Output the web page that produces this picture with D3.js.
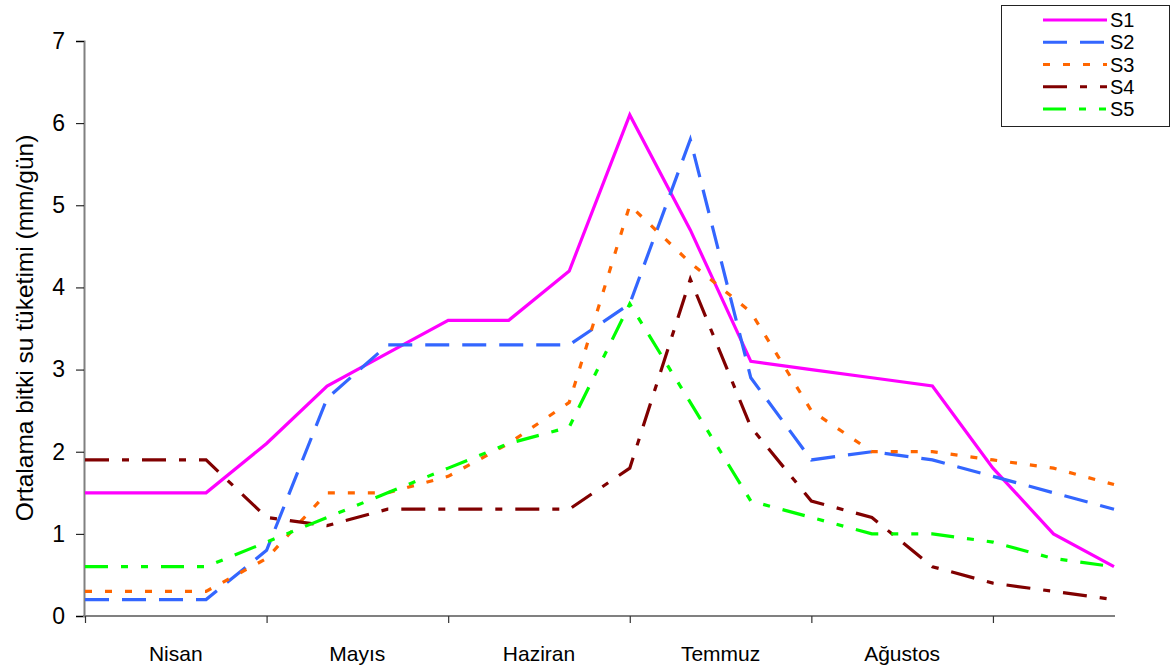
<!DOCTYPE html>
<html>
<head>
<meta charset="utf-8">
<script src="https://cdn.jsdelivr.net/npm/d3@7"></script>
<style>
  html, body { margin: 0; padding: 0; background: #fff; }
  svg { display: block; font-family: "Liberation Sans", Arial, sans-serif; }
</style>
</head>
<body>
<svg id="chart" width="1171" height="671"></svg>
<script>
// Ten-day periods, April to August (index 0..17)
const periods = d3.range(18);
const months = ["Nisan", "Mayıs", "Haziran", "Temmuz", "Ağustos"];
const yTicks = [0, 1, 2, 3, 4, 5, 6, 7];

// Average crop water use (mm/day) per treatment
const s1 = [1.5, 1.5, 1.5, 2.1, 2.8, 3.2, 3.6, 3.6, 4.2, 6.1, 4.7, 3.1, 3.0, 2.9, 2.8, 1.8, 1.0, 0.6];
const s2 = [0.2, 0.2, 0.2, 0.8, 2.65, 3.3, 3.3, 3.3, 3.3, 3.8, 5.8, 2.9, 1.9, 2.0, 1.9, 1.7, 1.5, 1.3];
const s3 = [0.3, 0.3, 0.3, 0.7, 1.5, 1.5, 1.7, 2.1, 2.6, 5.0, 4.3, 3.7, 2.5, 2.0, 2.0, 1.9, 1.8, 1.6];
const s4 = [1.9, 1.9, 1.9, 1.2, 1.1, 1.3, 1.3, 1.3, 1.3, 1.8, 4.1, 2.3, 1.4, 1.2, 0.6, 0.4, 0.3, 0.2];
const s5 = [0.6, 0.6, 0.6, 0.9, 1.2, 1.5, 1.8, 2.1, 2.3, 3.8, 2.6, 1.4, 1.2, 1.0, 1.0, 0.9, 0.7, 0.6];

const seriesNames = ["S1", "S2", "S3", "S4", "S5"];
const seriesValues = [s1, s2, s3, s4, s5];
const seriesColors = ["#ff00ff", "#3366ff", "#ff6600", "#800000", "#00ff00"];
const seriesDashes = [null, "24,13", "7,13", "24,13,7,13", "23,13,7,13,7,13"];

const svg = d3.select("#chart");

const x = d3.scaleLinear().domain([0, 17]).range([85, 1114]);
const y = d3.scaleLinear().domain([0, 7]).range([616, 41]);

// Y axis
const yAxis = svg.append("g")
  .attr("transform", `translate(${x(0) - 1},0)`)
  .call(d3.axisLeft(y).tickValues(yTicks).tickSize(8).tickPadding(11).tickFormat(d3.format("d")));
yAxis.select(".domain").attr("stroke", "#808080").attr("stroke-width", 2);
yAxis.selectAll(".tick line").attr("stroke", "#000").attr("stroke-width", 1);
yAxis.selectAll(".tick text")
  .attr("fill", "#000").attr("font-size", 23)
  .attr("font-family", "'Liberation Sans', Arial, sans-serif");

// X axis: ticks at month boundaries, labels centred between them
const xAxis = svg.append("g")
  .attr("transform", `translate(0,${y(0)})`)
  .call(d3.axisBottom(x).tickValues([0, 3, 6, 9, 12, 15]).tickSize(7).tickFormat(""));
xAxis.select(".domain").attr("stroke", "#808080").attr("stroke-width", 2)
  .attr("d", `M${x(0) - 2},0H${x(17) + 1}`);
xAxis.selectAll(".tick line").attr("stroke", "#333").attr("stroke-width", 1.2);

svg.append("g").selectAll("text")
  .data(months)
  .join("text")
  .attr("x", (d, i) => x(i * 3 + 1.5))
  .attr("y", 661)
  .attr("text-anchor", "middle")
  .attr("font-size", 21)
  .attr("fill", "#000")
  .text(d => d);

// Y axis title
svg.append("text")
  .attr("transform", "translate(33,328) rotate(-90)")
  .attr("text-anchor", "middle")
  .attr("font-size", 24.5)
  .attr("fill", "#000")
  .text("Ortalama bitki su tüketimi (mm/gün)");

// Series lines
const line = d3.line().x((d, i) => x(periods[i])).y(d => y(d));
svg.append("g").selectAll("path")
  .data(seriesValues)
  .join("path")
  .attr("d", d => line(d))
  .attr("fill", "none")
  .attr("stroke", (d, i) => seriesColors[i])
  .attr("stroke-width", 3.2)
  .attr("stroke-dasharray", (d, i) => seriesDashes[i]);

// Legend
const legend = svg.append("g");
legend.append("rect")
  .attr("x", 1001.5).attr("y", 5.5)
  .attr("width", 168).attr("height", 121)
  .attr("fill", "#fff").attr("stroke", "#222").attr("stroke-width", 1);
const rowY = d3.scalePoint().domain(seriesNames).range([20, 109]);
const rows = legend.selectAll("g.row")
  .data(seriesNames)
  .join("g")
  .attr("class", "row")
  .attr("transform", d => `translate(0,${rowY(d)})`);
rows.append("line")
  .attr("x1", 1043).attr("x2", 1107)
  .attr("stroke", (d, i) => seriesColors[i])
  .attr("stroke-width", 3)
  .attr("stroke-dasharray", (d, i) => seriesDashes[i]);
rows.append("text")
  .attr("x", 1110).attr("y", 7)
  .attr("font-size", 20)
  .attr("fill", "#000")
  .text(d => d);
</script>
</body>
</html>
